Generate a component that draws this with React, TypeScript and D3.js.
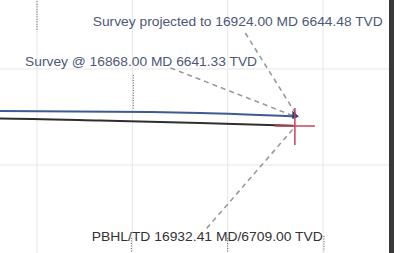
import React from "react";
import * as d3 from "d3";

// Grid ticks (ft)
const eastTicks = [4400, 4500, 4600, 4700];
const southTicks = [5100, 5200];

// Wellbore survey (blue) and plan (black) paths: East, South (ft)
const surveyEast = [4345, 4361, 4518, 4571, 4672];
const surveySouth = [5143.7, 5143.7, 5144.8, 5145.8, 5149.4];
const planEast = [4345, 4361, 4466, 4571, 4669];
const planSouth = [5151.5, 5151.6, 5153.6, 5156.2, 5159.2];

// PBHL target
const targetEast = [4670.5];
const targetSouth = [5159.4];

// Annotation labels
const labelTexts = [
  "Survey projected to 16924.00 MD 6644.48 TVD",
  "Survey @ 16868.00 MD 6641.33 TVD",
  "PBHL/TD 16932.41 MD/6709.00 TVD",
];
const labelEast = [4458.5, 4387.5, 4457.5];
const labelSouth = [5055.2, 5096.9, 5279.2];
const leaderFromEast = [4618.5, 4540, 4578];
const leaderFromSouth = [5062.5, 5099, 5266];
const leaderToEast = [4673, 4671, 4669];
const leaderToSouth = [5149, 5149.5, 5162];

// Dotted reference ticks
const dotEast = [4400, 4501, 4499, 4600, 4701];
const dotSouthA = [4993, 5106.3, 5276, 5276, 5274];
const dotSouthB = [5060, 5142.7, 5290, 5290, 5290];

export default function App() {
  const W = 401;
  const H = 253;
  const x = d3.scaleLinear().domain([4400, 4700]).range([37, 323]);
  const y = d3.scaleLinear().domain([5100, 5200]).range([69, 165]);
  const line = d3
    .line<[number, number]>()
    .x((d) => x(d[0]))
    .y((d) => y(d[1]))
    .curve(d3.curveMonotoneX);
  const survey = surveyEast.map((e, i) => [e, surveySouth[i]] as [number, number]);
  const plan = planEast.map((e, i) => [e, planSouth[i]] as [number, number]);
  const widths = [290, 232, 231];
  const colors = ["#4d5878", "#4d5878", "#333"];
  const tx = x(targetEast[0]);
  const ty = y(targetSouth[0]);
  const sEnd = survey[survey.length - 1];
  return (
    <svg
      width={W}
      height={H}
      style={{ position: "absolute", left: 0, top: 0, background: "#fff" }}
      fontFamily="'Liberation Sans', Arial, sans-serif"
    >
      <rect x={0} y={0} width={W} height={H} fill="#fff" />
      {eastTicks.map((t) => (
        <line key={"gx" + t} x1={x(t)} x2={x(t)} y1={0} y2={H} stroke="#e6e6e6" strokeWidth={1} />
      ))}
      {southTicks.map((t) => (
        <line key={"gy" + t} x1={0} x2={389} y1={y(t)} y2={y(t)} stroke="#e6e6e6" strokeWidth={1} />
      ))}
      {dotEast.map((e, i) => (
        <line
          key={"d" + i}
          x1={x(e)}
          x2={x(e)}
          y1={y(dotSouthA[i])}
          y2={y(dotSouthB[i])}
          stroke="#555"
          strokeWidth={1}
          strokeDasharray="1,1.5"
        />
      ))}
      {leaderFromEast.map((e, i) => (
        <line
          key={"l" + i}
          x1={x(e)}
          y1={y(leaderFromSouth[i])}
          x2={x(leaderToEast[i])}
          y2={y(leaderToSouth[i])}
          stroke="#9a9a9a"
          strokeWidth={1.6}
          strokeDasharray="5,4"
        />
      ))}
      <path d={line(plan) || ""} fill="none" stroke="#2e2e2e" strokeWidth={2} />
      <path d={line(survey) || ""} fill="none" stroke="#3d5a92" strokeWidth={2} />
      <path
        d={`M${x(sEnd[0]) - 4},${y(sEnd[1]) - 5} L${x(sEnd[0]) + 2},${y(sEnd[1])} L${x(sEnd[0]) - 4},${y(sEnd[1]) + 2}`}
        fill="#2b3d66"
        stroke="#2b3d66"
        strokeWidth={1}
      />
      <line x1={tx - 20} x2={tx + 20} y1={ty} y2={ty} stroke="#c8415a" strokeWidth={1.5} />
      <line x1={tx} x2={tx} y1={ty - 18} y2={ty + 19} stroke="#c8415a" strokeWidth={1.5} />
      {labelTexts.map((t, i) => (
        <text
          key={"t" + i}
          x={x(labelEast[i])}
          y={y(labelSouth[i])}
          fontSize={13.5}
          fill={colors[i]}
          textLength={widths[i]}
          lengthAdjust="spacingAndGlyphs"
        >
          {t}
        </text>
      ))}
      <line x1={391.5} x2={391.5} y1={0} y2={H} stroke="#383838" strokeWidth={5} />
    </svg>
  );
}
